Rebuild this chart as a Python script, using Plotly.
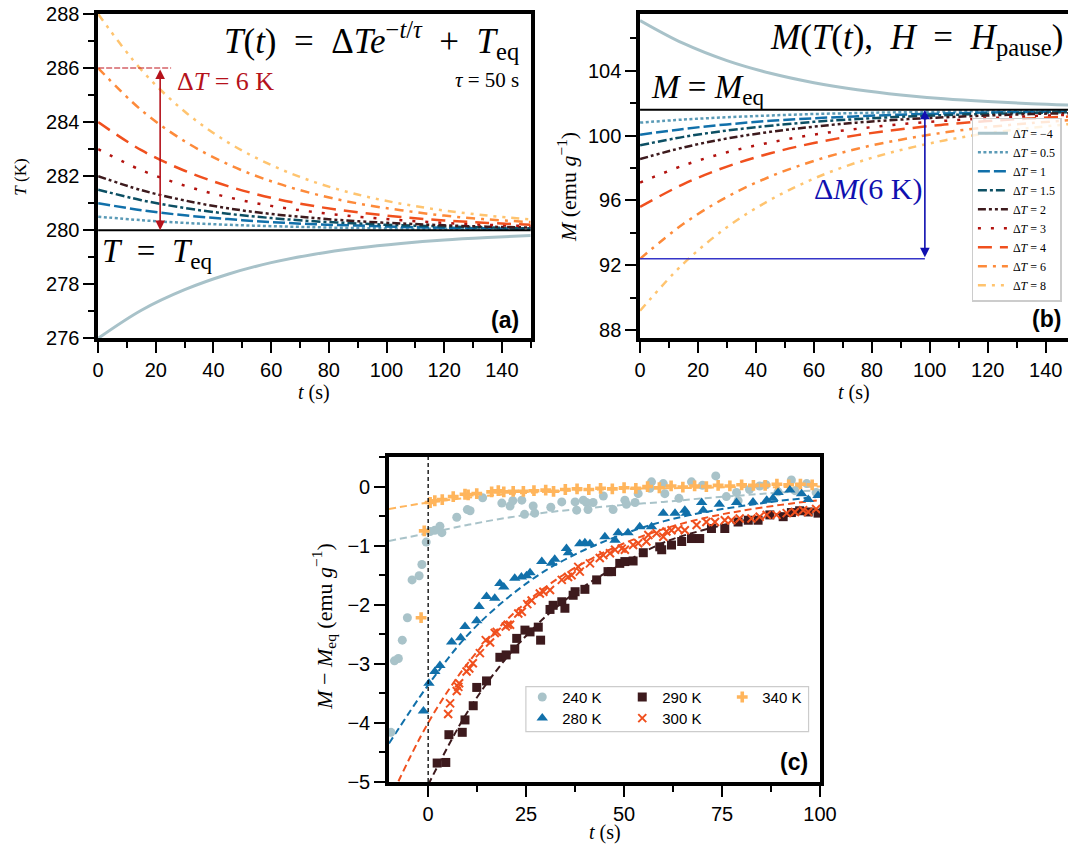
import plotly.graph_objects as go

# ---------------- data: panels (a) and (b) ----------------
t_model = [0, 15, 30, 45, 60, 75, 90, 105, 120, 135, 150]
dT_names = ["−4", "0.5", "1", "1.5", "2", "3", "4", "6", "8"]

T_dTm4 = [276.00, 277.04, 277.80, 278.37, 278.80, 279.11, 279.34, 279.51, 279.64, 279.73, 279.80]
T_dT05 = [280.50, 280.37, 280.27, 280.20, 280.15, 280.11, 280.08, 280.06, 280.05, 280.03, 280.02]
T_dT1 = [281.00, 280.74, 280.55, 280.41, 280.30, 280.22, 280.17, 280.12, 280.09, 280.07, 280.05]
T_dT15 = [281.50, 281.11, 280.82, 280.61, 280.45, 280.33, 280.25, 280.18, 280.14, 280.10, 280.07]
T_dT2 = [282.00, 281.48, 281.10, 280.81, 280.60, 280.45, 280.33, 280.25, 280.18, 280.13, 280.10]
T_dT3 = [283.00, 282.22, 281.65, 281.22, 280.90, 280.67, 280.50, 280.37, 280.27, 280.20, 280.15]
T_dT4 = [284.00, 282.96, 282.20, 281.63, 281.20, 280.89, 280.66, 280.49, 280.36, 280.27, 280.20]
T_dT6 = [286.00, 284.44, 283.29, 282.44, 281.81, 281.34, 280.99, 280.74, 280.54, 280.40, 280.30]
T_dT8 = [288.00, 285.93, 284.39, 283.25, 282.41, 281.78, 281.32, 280.98, 280.73, 280.54, 280.40]

M_dTm4 = [107.10, 105.68, 104.62, 103.84, 103.26, 102.83, 102.51, 102.27, 102.10, 101.97, 101.88]
M_dT05 = [100.80, 100.99, 101.13, 101.24, 101.33, 101.39, 101.44, 101.48, 101.51, 101.53, 101.54]
M_dT1 = [100.05, 100.41, 100.69, 100.91, 101.07, 101.19, 101.29, 101.36, 101.42, 101.46, 101.49]
M_dT15 = [99.40, 99.92, 100.31, 100.61, 100.85, 101.02, 101.16, 101.26, 101.34, 101.40, 101.45]
M_dT2 = [98.55, 99.27, 99.82, 100.23, 100.55, 100.80, 100.99, 101.13, 101.24, 101.33, 101.39]
M_dT3 = [97.10, 98.16, 98.97, 99.58, 100.06, 100.42, 100.70, 100.91, 101.07, 101.20, 101.29]
M_dT4 = [95.60, 97.01, 98.09, 98.91, 99.54, 100.03, 100.39, 100.68, 100.90, 101.06, 101.19]
M_dT6 = [92.40, 94.56, 96.22, 97.48, 98.44, 99.19, 99.75, 100.19, 100.52, 100.77, 100.97]
M_dT8 = [89.20, 92.11, 94.35, 96.04, 97.35, 98.35, 99.11, 99.70, 100.15, 100.48, 100.74]

T_eq = 280
M_eq = 101.6
dT_arrow_T = 286
dM_arrow_low = 92.4
t_arrow_a = 21.5
t_arrow_b = 98.3

# ---------------- data: panel (c) ----------------
t240 = [-9.5, -8.6, -7.6, -6.6, -5.3, -4.1, -2.3, -1.6, -0.5, 0.5, 1.7, 3.0, 3.5, 7.3, 10.0, 10.7, 13.9,
        18.8, 20.9, 21.6, 23.9, 24.6, 26.8, 27.2, 31.3, 34.1, 37.5, 37.9, 39.6, 40.4, 40.8, 42.1, 44.7,
        47.2, 50.2, 50.6, 52.8, 53.6, 56.6, 57.0, 60.0, 60.4, 64.0, 67.2, 70.0, 73.4, 76.1, 78.7, 79.1,
        82.0, 84.6, 86.2, 89.3, 92.7, 93.6, 96.6, 99.0]
m240 = [-4.16, -2.95, -2.91, -2.60, -2.22, -1.58, -1.51, -1.32, -0.94, -0.76, -0.74, -0.67, -0.78, -0.52,
        -0.39, -0.41, -0.19, -0.28, -0.33, -0.24, -0.23, -0.47, -0.33, -0.45, -0.35, -0.26, -0.26, -0.40,
        -0.23, -0.27, -0.39, -0.27, -0.16, -0.39, -0.23, -0.30, -0.27, -0.12, -0.03, 0.08, 0.05, -0.12,
        -0.20, 0.08, 0.02, 0.18, -0.17, -0.10, -0.24, -0.05, 0.01, 0.03, -0.09, 0.11, -0.07, 0.05, -0.10]

t280 = [-1.2, 0.2, 1.7, 3.0, 6.0, 8.3, 9.4, 12.4, 13.0, 14.9, 17.0, 18.3, 19.3, 22.1, 23.8, 25.1, 26.0,
        29.0, 31.5, 32.3, 35.3, 35.8, 38.7, 40.0, 41.3, 45.1, 47.7, 48.5, 51.0, 54.0, 57.0, 60.0, 63.0,
        65.5, 65.9, 69.8, 70.2, 74.3, 78.7, 82.9, 86.4, 88.0, 89.3, 92.3, 95.3, 97.0, 99.5]
m280 = [-3.80, -3.33, -3.13, -3.03, -2.63, -2.56, -2.37, -2.27, -2.03, -1.86, -1.89, -1.64, -1.70, -1.55,
        -1.53, -1.51, -1.46, -1.27, -1.30, -1.23, -1.05, -1.12, -0.97, -0.95, -0.97, -0.85, -0.91, -0.78,
        -0.78, -0.68, -0.68, -0.45, -0.45, -0.40, -0.45, -0.27, -0.40, -0.30, -0.27, -0.26, -0.23, -0.20,
        -0.10, -0.06, -0.12, -0.22, -0.15]

t290 = [2.3, 4.5, 5.3, 8.7, 9.4, 11.5, 12.4, 14.9, 18.3, 19.9, 22.1, 22.6, 24.7, 26.0, 28.1, 28.7, 31.1,
        31.9, 34.1, 34.9, 37.0, 37.5, 40.0, 43.0, 45.9, 46.8, 48.9, 50.2, 52.3, 54.9, 59.1, 59.6, 62.1,
        64.7, 67.2, 69.3, 72.3, 75.7, 79.1, 81.7, 84.2, 87.2, 90.6, 92.7, 94.8, 97.0, 99.5]
m290 = [-4.68, -4.67, -4.20, -4.16, -3.95, -3.71, -3.40, -3.29, -2.89, -2.85, -2.75, -2.57, -2.43, -2.46,
        -2.38, -2.60, -2.08, -2.01, -1.95, -2.06, -1.84, -1.78, -1.74, -1.58, -1.44, -1.44, -1.30, -1.27,
        -1.26, -1.12, -1.02, -1.07, -0.99, -0.93, -0.88, -0.88, -0.71, -0.71, -0.60, -0.57, -0.57, -0.48,
        -0.51, -0.44, -0.41, -0.43, -0.45]

t300 = [5.1, 5.6, 7.3, 7.7, 7.9, 9.8, 10.5, 11.4, 13.2, 14.7, 15.8, 17.0, 17.5, 19.8, 20.3, 20.9, 23.0,
        23.9, 25.3, 26.4, 28.5, 29.4, 31.1, 34.1, 35.7, 36.6, 38.3, 38.7, 41.3, 43.8, 44.7, 46.4, 47.7,
        49.4, 50.2, 52.3, 53.6, 55.7, 56.2, 58.3, 60.0, 60.8, 62.1, 63.8, 65.5, 68.5, 71.0, 73.2, 75.7,
        77.4, 79.5, 82.5, 84.6, 86.4, 88.9, 91.5, 93.6, 95.7, 97.0, 99.0]
m300 = [-3.85, -3.67, -3.46, -3.39, -3.33, -3.13, -3.08, -2.99, -2.82, -2.60, -2.64, -2.48, -2.46, -2.37,
        -2.34, -2.34, -2.15, -2.12, -1.99, -1.93, -1.81, -1.78, -1.75, -1.58, -1.53, -1.50, -1.36, -1.44,
        -1.30, -1.21, -1.16, -1.13, -1.07, -1.05, -1.07, -0.99, -0.96, -0.93, -0.82, -0.79, -0.85, -0.76,
        -0.74, -0.72, -0.74, -0.65, -0.60, -0.60, -0.57, -0.57, -0.54, -0.54, -0.51, -0.48, -0.48, -0.45,
        -0.43, -0.40, -0.43, -0.38]

t340 = [-1.8, -1.0, 0.5, 1.7, 3.6, 6.4, 9.4, 10.2, 12.4, 16.2, 17.9, 19.3, 21.7, 24.3, 27, 30, 32, 35, 38,
        41, 44, 47, 50, 53, 56, 59, 62, 65, 68, 71, 74, 77, 80, 83, 86, 89, 92, 95, 98]
m340 = [-2.22, -0.75, -0.27, -0.24, -0.22, -0.17, -0.13, -0.14, -0.12, -0.09, -0.07, -0.09, -0.08, -0.08,
        -0.07, -0.06, -0.08, -0.05, -0.04, -0.05, -0.03, -0.04, -0.02, -0.03, 0.00, -0.02, 0.01, -0.01,
        0.01, 0.00, 0.02, 0.01, 0.03, 0.02, 0.02, 0.04, 0.03, 0.04, 0.03]

t_fit = [-10, 0, 10, 20, 30, 40, 50, 60, 70, 80, 90, 100]
fit240 = [-0.92, -0.79, -0.65, -0.53, -0.44, -0.37, -0.31, -0.26, -0.20, -0.15, -0.10, -0.06]
fit280 = [-4.35, -3.36, -2.52, -1.90, -1.42, -1.07, -0.80, -0.59, -0.44, -0.33, -0.24, -0.17]
fit300 = [-5.33, -4.00, -3.00, -2.26, -1.70, -1.28, -0.96, -0.72, -0.54, -0.41, -0.31, -0.23]
fit340 = [-0.38, -0.27, -0.19, -0.13, -0.09, -0.06, -0.04, -0.03, -0.02, -0.01, -0.01, 0.00]
t_fit290 = [0, 10, 20, 30, 40, 50, 60, 70, 80, 90, 100]
fit290 = [-5.05, -3.82, -2.90, -2.20, -1.68, -1.29, -0.95, -0.74, -0.58, -0.46, -0.37]

# ---------------- styles ----------------
SERIF = "Liberation Serif"
SANS = "Liberation Sans"
EN = "\u2002"
curve_colors = ["#a8c2c9", "#5a9ab6", "#1170aa", "#0c4f63", "#3d1a1d", "#b3130f", "#f0501e", "#fd8a3a", "#ffc46f"]
curve_dash = ["solid", "3px,2.5px", "12px,4px", "9px,3px,3px,3px", "8px,3px,3px,3px,3px,3px",
              "3px,10px", "14px,8px", "9px,6px,3px,6px", "8px,6px,3px,6px,3px,6px"]
curve_width = [3, 2.5, 2.5, 2.5, 2.5, 2.5, 2.5, 2.5, 2.5]

T_series = [T_dTm4, T_dT05, T_dT1, T_dT15, T_dT2, T_dT3, T_dT4, T_dT6, T_dT8]
M_series = [M_dTm4, M_dT05, M_dT1, M_dT15, M_dT2, M_dT3, M_dT4, M_dT6, M_dT8]

fig = go.Figure()

for i in range(len(dT_names)):
    fig.add_trace(go.Scatter(
        x=t_model, y=T_series[i], mode="lines", line_shape="spline",
        line=dict(color=curve_colors[i], dash=curve_dash[i], width=curve_width[i]),
        showlegend=False, xaxis="x", yaxis="y"))
for i in range(len(dT_names)):
    fig.add_trace(go.Scatter(
        x=t_model, y=M_series[i], mode="lines", line_shape="spline",
        line=dict(color=curve_colors[i], dash=curve_dash[i], width=curve_width[i]),
        name="Δ<i>T</i> = " + dT_names[i], showlegend=True, legend="legend",
        xaxis="x2", yaxis="y2"))

# panel (c)
c240, c280, c290, c300, c340 = "#a9c3c9", "#1170aa", "#3d1a1d", "#f0501e", "#ffb55c"
fitdash = "7px,4px"
for tt, ff, col in [(t_fit, fit240, c240), (t_fit, fit340, c340), (t_fit, fit280, c280),
                    (t_fit290, fit290, c290), (t_fit, fit300, c300)]:
    fig.add_trace(go.Scatter(x=tt, y=ff, mode="lines", line_shape="spline",
                             line=dict(color=col, dash=fitdash, width=2),
                             showlegend=False, xaxis="x3", yaxis="y3"))

fig.add_trace(go.Scatter(x=t240, y=m240, mode="markers", name="240 K", legend="legend2",
                         marker=dict(symbol="circle", size=9, color=c240), xaxis="x3", yaxis="y3"))
fig.add_trace(go.Scatter(x=t290, y=m290, mode="markers", name="290 K", legend="legend2",
                         marker=dict(symbol="square", size=9, color=c290), xaxis="x3", yaxis="y3"))
fig.add_trace(go.Scatter(x=t340, y=m340, mode="markers", name="340 K", legend="legend2",
                         marker=dict(symbol="cross", size=9, color=c340), xaxis="x3", yaxis="y3"))
fig.add_trace(go.Scatter(x=t280, y=m280, mode="markers", name="280 K", legend="legend3",
                         marker=dict(symbol="triangle-up", size=10, color=c280), xaxis="x3", yaxis="y3"))
fig.add_trace(go.Scatter(x=t300, y=m300, mode="markers", name="300 K", legend="legend3",
                         marker=dict(symbol="x-thin", size=8, color=c300, line=dict(color=c300, width=2)),
                         xaxis="x3", yaxis="y3"))

# ---------------- axes ----------------
tickfont = dict(family=SANS, size=20, color="black")
common = dict(showline=True, linecolor="black", linewidth=3.5, ticks="outside", ticklen=11,
              tickwidth=2, tickcolor="black", showgrid=False, zeroline=False, tickfont=tickfont,
              automargin=False)

def minor(d, t0):
    return dict(dtick=d, tick0=t0, ticks="outside", ticklen=6, tickwidth=2, tickcolor="black")

fig.update_layout(
    xaxis=dict(domain=[0.0919, 0.4969], range=[0, 150], anchor="y", dtick=20, tick0=0, mirror=True,
               minor=minor(10, 0), **common),
    yaxis=dict(domain=[0.6001, 0.9835], range=[276, 288], anchor="x", dtick=2, tick0=276, mirror=True,
               minor=minor(1, 276), **common),
    xaxis2=dict(domain=[0.5993, 1.0], range=[0, 147.7], anchor="y2", dtick=20, tick0=0, mirror=True,
                minor=minor(10, 0), **common),
    yaxis2=dict(domain=[0.6001, 0.9835], range=[87.5, 107.5], anchor="x2", dtick=4, tick0=88, mirror=False,
                minor=minor(2, 88), **common),
    xaxis3=dict(domain=[0.3642, 0.7678], range=[-10, 100], anchor="y3", dtick=25, tick0=0, mirror=True,
                minor=minor(12.5, 0), **common),
    yaxis3=dict(domain=[0.0757, 0.4598], range=[-5, 0.5], anchor="x3", dtick=1, tick0=0, mirror=True,
                minor=minor(0.5, 0), **common),
)

# ---------------- legends ----------------
fig.update_layout(
    legend=dict(x=0.9941, y=0.861, xanchor="right", yanchor="top", bgcolor="rgba(255,255,255,0.8)",
                bordercolor="#cccccc", borderwidth=1.2, font=dict(family=SERIF, size=12, color="black"),
                tracegroupgap=0),
    legend2=dict(orientation="h", x=0.489, y=0.1758, xanchor="left", yanchor="middle",
                 bgcolor="rgba(0,0,0,0)", borderwidth=0, entrywidth=55, entrywidthmode="pixels",
                 font=dict(family=SANS, size=15, color="black")),
    legend3=dict(orientation="h", x=0.489, y=0.1509, xanchor="left", yanchor="middle",
                 bgcolor="rgba(0,0,0,0)", borderwidth=0, entrywidth=55, entrywidthmode="pixels",
                 font=dict(family=SANS, size=15, color="black")),
)

# ---------------- shapes ----------------
shapes = [
    dict(type="line", xref="x domain", yref="y", x0=0, x1=1, y0=T_eq, y1=T_eq,
         line=dict(color="black", width=2)),
    dict(type="line", xref="x", yref="y", x0=0, x1=25.3, y0=dT_arrow_T, y1=dT_arrow_T,
         line=dict(color="#c0141c", width=1.2, dash="6px,2px")),
    dict(type="line", xref="x2 domain", yref="y2", x0=0, x1=1, y0=M_eq, y1=M_eq,
         line=dict(color="black", width=2)),
    dict(type="line", xref="x2", yref="y2", x0=0, x1=t_arrow_b, y0=dM_arrow_low, y1=dM_arrow_low,
         line=dict(color="#3535c8", width=1.5)),
    dict(type="line", xref="x3", yref="y3 domain", x0=0, x1=0, y0=0, y1=1,
         line=dict(color="black", width=1.3, dash="4px,3px")),
    dict(type="rect", xref="paper", yref="paper", x0=0.4924, x1=0.7571, y0=0.1351, y1=0.1883,
         line=dict(color="#cccccc", width=1.2), fillcolor="rgba(255,255,255,0.8)", layer="above"),
]
fig.update_layout(shapes=shapes)

# ---------------- annotations ----------------
ann = []
def txt(text, x, y, xref, yref, size, color="black", family=SERIF, xanchor="center", yanchor="middle", angle=0):
    ann.append(dict(text=text, x=x, y=y, xref=xref, yref=yref, showarrow=False, xanchor=xanchor,
                    yanchor=yanchor, textangle=angle, font=dict(family=family, size=size, color=color)))

# panel (a)
txt("<i>T</i>(<i>t</i>)" + EN + "=" + EN + "Δ<i>Te</i><sup>−<i>t</i>/<i>τ</i></sup>" + EN + "+" + EN
    + "<i>T</i><sub>eq</sub>", 146.5, 287.0, "x", "y", 35, xanchor="right")
txt("<i>τ</i> = 50 s", 146.5, 285.55, "x", "y", 21, xanchor="right")
txt("<i>T</i>" + EN + "=" + EN + "<i>T</i><sub>eq</sub>", 0.8, 279.15, "x", "y", 33, xanchor="left")
txt("Δ<i>T</i> = 6 K", 26.5, 285.5, "x", "y", 26, color="#b5121b", xanchor="left")
txt("<b>(a)</b>", 146.5, 276.68, "x", "y", 23, family=SANS, xanchor="right")
# panel (b)
txt("<i>M</i>(<i>T</i>(<i>t</i>)," + EN + "<i>H</i>" + EN + "=" + EN + "<i>H</i><sub>pause</sub>)",
    146.5, 105.9, "x2", "y2", 35, xanchor="right")
txt("<i>M</i> = <i>M</i><sub>eq</sub>", 3.0, 102.85, "x2", "y2", 33, xanchor="left")
txt("Δ<i>M</i>(6 K)", 98.0, 96.7, "x2", "y2", 30, color="#1010b0", xanchor="right")
txt("<b>(b)</b>", 146.1, 88.72, "x2", "y2", 23, family=SANS, xanchor="right")
# panel (c)
txt("<b>(c)</b>", 97.5, -4.66, "x3", "y3", 23, family=SANS, xanchor="right")

# axis titles
txt("<i>T</i> (K)", 0.0194, 0.7908, "paper", "paper", 17, angle=-90)
txt("<i>t</i> (s)", 0.294, 0.5355, "paper", "paper", 20)
txt("<i>M</i> (emu <i>g</i><sup>−1</sup>)", 0.531, 0.779, "paper", "paper", 22, angle=-90)
txt("<i>t</i> (s)", 0.80, 0.5355, "paper", "paper", 20)
txt("<i>M</i> − <i>M</i><sub>eq</sub> (emu <i>g</i><sup>−1</sup>)", 0.3034, 0.2592, "paper", "paper", 22, angle=-90)
txt("<i>t</i> (s)", 0.5665, 0.0154, "paper", "paper", 20)

# arrows
ann.append(dict(x=t_arrow_a, y=T_eq, ax=t_arrow_a, ay=dT_arrow_T, xref="x", yref="y", axref="x", ayref="y",
                text="", showarrow=True, arrowhead=2, arrowside="end+start", arrowsize=1.2,
                arrowwidth=1.6, arrowcolor="#b5121b"))
ann.append(dict(x=t_arrow_b, y=M_eq, ax=t_arrow_b, ay=dM_arrow_low, xref="x2", yref="y2", axref="x2", ayref="y2",
                text="", showarrow=True, arrowhead=2, arrowside="end+start", arrowsize=1.2,
                arrowwidth=1.6, arrowcolor="#1010b0"))
fig.update_layout(annotations=ann)

fig.update_layout(width=1068, height=846, margin=dict(l=0, r=0, t=0, b=0, autoexpand=False),
                  paper_bgcolor="white", plot_bgcolor="white",
                  font=dict(family=SANS, color="black"))

fig.write_html("out.html", config={"displayModeBar": False},
               post_script="document.body.style.margin='0px';document.body.style.overflow='hidden';")
